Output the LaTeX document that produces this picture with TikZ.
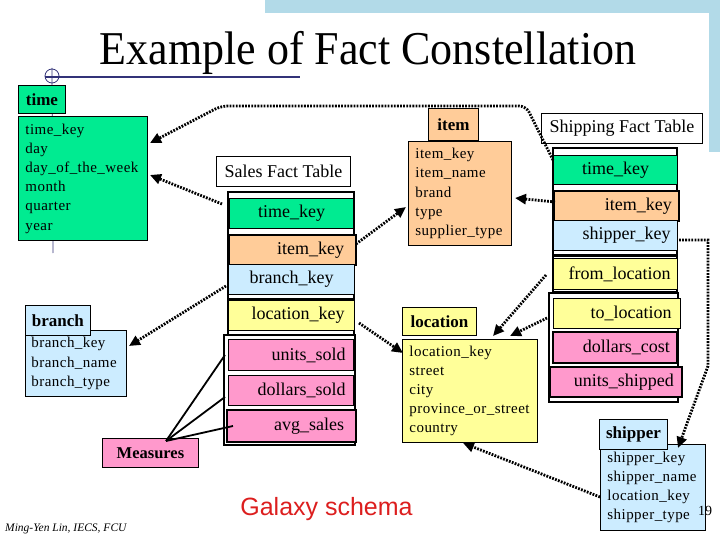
\documentclass[tikz,border=0pt]{standalone}
\usepackage{fontspec}
\setmainfont{Liberation Serif}
\newfontfamily\attrfont[LetterSpace=3]{Liberation Serif}
\newfontfamily\galfont{Liberation Sans}
\usetikzlibrary{arrows.meta}
\definecolor{cgreen}{RGB}{0,235,145}
\definecolor{corange}{RGB}{255,204,153}
\definecolor{cblue}{RGB}{204,236,255}
\definecolor{cyellow}{RGB}{255,255,153}
\definecolor{cpink}{RGB}{255,153,204}
\definecolor{cnavy}{RGB}{50,50,120}
\definecolor{cband}{RGB}{178,218,232}
\definecolor{galred}{RGB}{220,30,30}
\tikzset{
  attr/.style={draw=black, line width=0.9pt, anchor=north west, align=left, inner xsep=7pt, inner ysep=0pt, font=\attrfont\fontsize{15}{19.2}\selectfont},
  hdr/.style={draw=black, line width=0.9pt, anchor=north west, inner sep=0pt, font=\bfseries\fontsize{17}{18}\selectfont},
  rowbox/.style={draw=black, line width=1.2pt, anchor=north west, inner ysep=0pt, font=\fontsize{18}{20}\selectfont},
  framebox/.style={draw=black, line width=2.4pt, fill=white},
  fk/.style={line width=2.8pt, dash pattern=on 1.8pt off 1.3pt, -{Triangle[length=11pt,width=10pt]}},
  mline/.style={line width=1.8pt},
}
\begin{document}
\begin{tikzpicture}[x=1pt,y=-1pt]
\useasboundingbox (0,0) rectangle (720,540);
% background band
\fill[cband] (265,0) rectangle (720,13);
\fill[cband] (709,0) rectangle (720,152);
% title
\node[anchor=base, inner sep=0pt, font=\fontsize{44}{50}\selectfont] (title) at (368,65) {\scalebox{1}[1.07]{Example of Fact Constellation}};
% decoration
\draw[cnavy, line width=1.8pt] (45,77) -- (300,77);
\draw[cnavy, line width=0.8pt] (52,76) circle (7);
\draw[cnavy, line width=0.8pt] (52,68) -- (53,253);

% ---------- time dimension
\node[attr, fill=cgreen, text width=115pt, minimum height=124pt] (timeattr) at (18,116)
 {time\_key\\day\\day\_of\_the\_week\\month\\quarter\\year};
\node[hdr, fill=cgreen, minimum width=47pt, minimum height=28pt] (timehdr) at (18,85) {time};

% ---------- item dimension
\node[attr, fill=corange, text width=89pt, minimum height=104pt] (itemattr) at (408,141)
 {item\_key\\item\_name\\brand\\type\\supplier\_type};
\node[hdr, fill=corange, minimum width=50pt, minimum height=32pt] (itemhdr) at (428,108) {item};

% ---------- branch dimension
\node[attr, fill=cblue, text width=89pt, minimum height=66pt, inner xsep=6pt] (branchattr) at (25,330)
 {branch\_key\\branch\_name\\branch\_type};
\node[hdr, fill=cblue, minimum width=65pt, minimum height=30pt] (branchhdr) at (25,305) {branch};

% ---------- location dimension
\node[attr, fill=cyellow, text width=121pt, minimum height=103pt] (locattr) at (402,339)
 {location\_key\\street\\city\\province\_or\_street\\country};
\node[hdr, fill=cyellow, minimum width=74pt, minimum height=28pt] (lochdr) at (402,307) {location};

% ---------- shipper dimension
\node[attr, fill=cblue, text width=91pt, minimum height=86pt] (shipattr) at (600,444)
 {shipper\_key\\shipper\_name\\location\_key\\shipper\_type};
\node[hdr, fill=cblue, minimum width=68pt, minimum height=30pt] (shiphdr) at (599,419) {shipper};

% ---------- Sales fact table
\node[draw=black, line width=0.9pt, fill=white, anchor=north west, minimum width=134pt, minimum height=30pt, inner sep=0pt, font=\fontsize{18}{20}\selectfont] (salesttl) at (216,156) {Sales Fact Table};
\draw[framebox] (228,192) rectangle (354,299);
\node[rowbox, fill=cgreen, minimum width=124pt, minimum height=30pt, text width=110pt, inner xsep=7pt, align=center] (stime) at (229,198) {time\_key};
\node[rowbox, fill=corange, line width=2pt, minimum width=127pt, minimum height=30pt, text width=103pt, inner xsep=12pt, align=right] (sitem) at (228,234) {item\_key};
\node[rowbox, fill=cblue, minimum width=126pt, minimum height=30pt, text width=112pt, inner xsep=7pt, align=center] (sbranch) at (228,264) {branch\_key};
\draw[framebox] (228,299) rectangle (354,335);
\node[rowbox, fill=cyellow, minimum width=126pt, minimum height=30pt, text width=106pt, inner xsep=8pt, align=right] (sloc) at (228,300) {location\_key};
\draw[framebox] (224,335) rectangle (355,445);
\node[rowbox, fill=cpink, minimum width=125pt, minimum height=31pt, text width=109pt, inner xsep=8pt, align=right] (sunits) at (228,339) {units\_sold};
\node[rowbox, fill=cpink, minimum width=125pt, minimum height=30pt, text width=109pt, inner xsep=7pt, align=right] (sdollars) at (228,375) {dollars\_sold};
\node[rowbox, fill=cpink, line width=2pt, minimum width=129pt, minimum height=32pt, text width=105pt, inner xsep=12pt, align=right] (savg) at (226,409) {avg\_sales};

% ---------- Shipping fact table
\node[draw=black, line width=0.9pt, fill=white, anchor=north west, minimum width=161pt, minimum height=30pt, inner sep=0pt, font=\fontsize{18}{20}\selectfont] (shipttl) at (541,113) {Shipping Fact Table};
\draw[framebox] (553,148) rectangle (677,255);
\node[rowbox, fill=cgreen, minimum width=124pt, minimum height=29pt, text width=110pt, inner xsep=7pt, align=center] (htime) at (553,155) {time\_key};
\node[rowbox, fill=corange, line width=1.6pt, minimum width=125pt, minimum height=30pt, text width=111pt, inner xsep=7pt, align=right] (hitem) at (553,190) {item\_key};
\node[rowbox, fill=cblue, minimum width=124pt, minimum height=30pt, text width=110pt, inner xsep=7pt, align=right] (hship) at (553,220) {shipper\_key};
\draw[framebox] (553,256) rectangle (677,292);
\node[rowbox, fill=cyellow, minimum width=124pt, minimum height=31pt, text width=110pt, inner xsep=7pt, align=right] (hfrom) at (553,258) {from\_location};
\draw[framebox] (549,293) rectangle (678,402);
\node[rowbox, fill=cyellow, minimum width=123pt, minimum height=30pt, text width=109pt, inner xsep=9pt, align=right] (hto) at (553,298) {to\_location};
\node[rowbox, fill=cpink, line width=1.6pt, minimum width=124pt, minimum height=31pt, text width=110pt, inner xsep=7pt, align=right] (hcost) at (552,331) {dollars\_cost};
\node[rowbox, fill=cpink, line width=1.6pt, minimum width=130pt, minimum height=30pt, text width=116pt, inner xsep=8pt, align=right] (hunits) at (549,366) {units\_shipped};

% ---------- Measures
\node[draw=black, line width=0.9pt, fill=cpink, anchor=north west, minimum width=96pt, minimum height=29pt, inner sep=0pt, font=\bfseries\fontsize{16.5}{18}\selectfont] (meas) at (102,438) {Measures};
\coordinate (mtop) at (166,441);
\coordinate (mu) at (225,355);
\coordinate (md) at (225,397);
\coordinate (ma) at (233,426);
\draw[mline] (mtop) -- (mu);
\draw[mline] (mtop) -- (md);
\draw[mline] (mtop) -- (ma);

% ---------- foreign key arrows
\coordinate (a1s) at (553,160);
\coordinate (a1b) at (526,106);
\coordinate (a1c) at (221,106);
\coordinate (a1t) at (150,143);
\draw[fk, rounded corners=7pt] (a1s) -- (a1b) -- (a1c) -- (a1t);

\coordinate (a2s) at (222,204);
\coordinate (a2t) at (150,175);
\draw[fk] (a2s) -- (a2t);

\coordinate (a3s) at (356,244);
\coordinate (a3t) at (406,207);
\draw[fk] (a3s) -- (a3t);

\coordinate (a4s) at (555,202);
\coordinate (a4t) at (515,198);
\draw[fk] (a4s) -- (a4t);

\coordinate (a5s) at (226,286);
\coordinate (a5t) at (129,346);
\draw[fk] (a5s) -- (a5t);

\coordinate (a6s) at (359,323);
\coordinate (a6t) at (403,353);
\draw[fk] (a6s) -- (a6t);

\coordinate (a7s) at (546,275);
\coordinate (a7t) at (493,336);
\draw[fk] (a7s) -- (a7t);

\coordinate (a8s) at (547,318);
\coordinate (a8t) at (510,336);
\draw[fk] (a8s) -- (a8t);

\coordinate (a9s) at (679,240);
\coordinate (a9b) at (708,240);
\coordinate (a9c) at (708,366);
\coordinate (a9t) at (678,448);
\draw[fk] (a9s) -- (a9b) -- (a9c) -- (a9t);

\coordinate (a10s) at (600,497);
\coordinate (a10t) at (463,443);
\draw[fk] (a10s) -- (a10t);

% ---------- texts
\node[anchor=base, inner sep=0pt, text=galred, font=\galfont\fontsize{25}{28}\selectfont] (gal) at (326.5,515) {Galaxy schema};
\node[anchor=base west, inner sep=0pt, font=\itshape\fontsize{11.5}{13}\selectfont] (auth) at (5,531) {Ming-Yen Lin, IECS, FCU};
\node[inner sep=0pt, font=\fontsize{14}{16}\selectfont] (pnum) at (705,511) {19};
\end{tikzpicture}
\end{document}
